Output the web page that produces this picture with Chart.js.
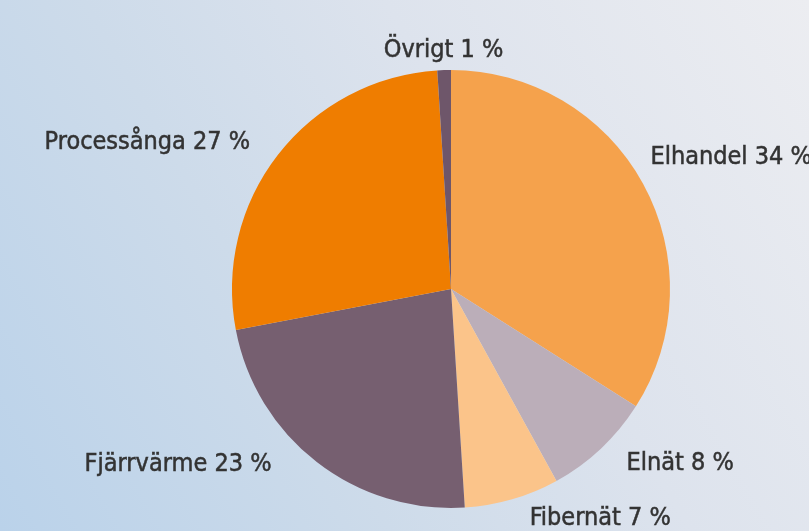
<!DOCTYPE html>
<html>
<head>
<meta charset="utf-8">
<script src="https://cdn.jsdelivr.net/npm/chart.js@4"></script>
<style>
	html, body { margin: 0; padding: 0; }
	body {
		width: 809px;
		height: 531px;
		overflow: hidden;
		background: linear-gradient(60deg, #bad2ea 0%, #cddbea 35%, #dde3ed 62%, #ecedf1 100%);
	}
	#wrap { position: relative; width: 809px; height: 531px; }
</style>
</head>
<body>
<div id="wrap"><canvas id="pie"></canvas></div>
<script>
const categories = ['Elhandel', 'Elnät', 'Fibernät', 'Fjärrvärme', 'Processånga', 'Övrigt'];
const shares = [34, 8, 7, 23, 27, 1];
const sliceColors = ['#f5a24c', '#bbaeb9', '#fbc48a', '#765f70', '#ef7d00', '#6e566a'];

const labelFont = '25px "Liberation Sans Narrow", "DejaVu Sans Condensed", sans-serif';

// writes "Name NN %" outside each slice, near the middle of its arc
const outsideLabels = {
	id: 'outsideLabels',
	afterDatasetsDraw(chart, args, opts) {
		const ctx = chart.ctx;
		const meta = chart.getDatasetMeta(0);
		ctx.save();
		ctx.font = labelFont;
		ctx.fillStyle = '#333';
		ctx.strokeStyle = '#333';
		ctx.lineWidth = 0.5;
		ctx.textBaseline = 'middle';
		meta.data.forEach((arc, i) => {
			const mid = (arc.startAngle + arc.endAngle) / 2;
			const r = arc.outerRadius + opts.gap;
			const c = Math.cos(mid);
			let x = arc.x + c * r;
			let y = arc.y + Math.sin(mid) * r;
			ctx.textAlign = c > 0.1 ? 'left' : (c < -0.1 ? 'right' : 'center');
			if (c > 0.1) x += opts.pad;
			if (c < -0.1) x -= opts.pad;
			// a couple of labels sit a bit off the regular ring in the original
			const n = opts.nudge[categories[i]];
			if (n) { x += n[0]; y += n[1]; }
			const txt = categories[i] + ' ' + shares[i] + ' %';
			ctx.fillText(txt, x, y);
			ctx.strokeText(txt, x, y);
		});
		ctx.restore();
	}
};

window.addEventListener('DOMContentLoaded', () => {
	new Chart(document.getElementById('pie'), {
		type: 'pie',
		data: {
			labels: categories,
			datasets: [{ data: shares, backgroundColor: sliceColors, borderWidth: 0 }]
		},
		options: {
			responsive: true,
			maintainAspectRatio: false,
			animation: false,
			layout: { padding: { left: 232, right: 139, top: 70, bottom: 23 } },
			plugins: {
				legend: { display: false },
				tooltip: { enabled: false },
				outsideLabels: {
					gap: 20,
					pad: 12,
					nudge: { 'Elhandel': [-22, -16], 'Fjärrvärme': [-21, -13] }
				}
			}
		},
		plugins: [outsideLabels]
	});
});
</script>
</body>
</html>
